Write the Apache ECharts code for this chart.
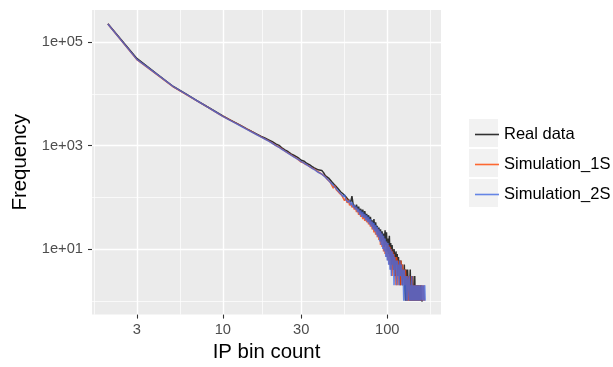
<!DOCTYPE html>
<html>
<head>
<meta charset="utf-8">
<script src="https://cdn.jsdelivr.net/npm/echarts@6/dist/echarts.min.js"></script>
<style>
  html, body { margin: 0; padding: 0; background: #ffffff; }
  #chart { width: 613px; height: 367px; }
</style>
</head>
<body>
<div id="chart"></div>
<script>
// IP bin count (x) for every row of the frequency table
const binCounts = [
  2, 3, 4, 5, 6, 7, 8, 9, 10, 11, 12, 13, 14, 15, 16, 17, 18, 19, 20, 21,
  22, 23, 24, 25, 26, 27, 28, 29, 30, 31, 32, 33, 34, 35, 36, 37, 38, 39, 40, 41,
  42, 43, 44, 45, 46, 47, 48, 49, 50, 51, 52, 53, 54, 55, 56, 57, 58, 59, 60, 61,
  62, 63, 64, 65, 66, 67, 68, 69, 70, 71, 72, 73, 74, 75, 76, 77, 78, 79, 80, 81,
  82, 83, 84, 85, 86, 87, 88, 89, 90, 91, 92, 93, 94, 95, 96, 97, 98, 99, 100, 101,
  102, 103, 104, 105, 106, 107, 108, 109, 110, 111, 112, 113, 114, 115, 116, 117, 118, 119, 120, 121,
  122, 123, 124, 125, 126, 127, 128, 129, 130, 131, 132, 133, 134, 135, 136, 137, 138, 139, 140, 141,
  142, 143, 144, 145, 146, 147, 148, 149, 150, 151, 152, 153, 154, 155, 156, 157, 158, 159, 160, 161,
  162, 163, 164, 165, 166, 167, 168, 169, 170
];

// Frequencies (null = bin count not observed)
const realData = [
  226000, 48500, 23800, 13900, 9850, 7350, 5700, 4580, 3760, 3190, 2760, 2400, 2110, 1880, 1690, 1520, 1400, 1290, 1190, 1080,
  1010, 890, 820, 760, 690, 650, 610, 570, 520, 505, 470, 440, 420, 390, 372, 350, 340, 318, 330, 300,
  262, 250, 236, 218, 200, 196, 172, 170, 150, 152, 128, 134, 116, 120, 102, 108, 90, 96, 82, 105,
  74, 80, 62, 72, 58, 66, 50, 60, 48, 58, 42, 54, 40, 48, 36, 45, 34, 42, 30, 36,
  26, 38, 24, 33, 22, 28, 18, 26, 16, 24, 14, 22, 15, 20, 11, 23, 12, 21, 9, 16,
  8, 18, 7, 13, 5, 12, 8, 4, 10, 7, 3, 9, 5, 8, 3, 7, 4, 6, 2, 6,
  3, 5, 2, 4, 3, 5, 2, 1, 4, 3, 1, 4, 2, 3, 1, 2, 4, 1, 3, 2,
  1, 3, 1, 2, 1, 3, 1, 2, 1, 2, 1, 1, 2, 1, 2, null, 1, 1, 2, 1,
  null, 1, null, 1, null, null, null, null, null
];

const simulation1S = [
  224000, 46000, 23300, 13700, 9700, 7250, 5650, 4500, 3690, 3150, 2720, 2380, 2090, 1850, 1650, 1490, 1350, 1230, 1120, 1010,
  930, 850, 770, 715, 660, 610, 570, 525, 480, 465, 430, 415, 385, 365, 350, 325, 312, 295, 282, 262,
  252, 226, 214, 196, 180, 150, 170, 140, 146, 122, 128, 108, 112, 86, 98, 78, 90, 70, 78, 64,
  72, 58, 66, 52, 60, 46, 55, 42, 50, 38, 47, 35, 44, 33, 40, 30, 37, 27, 34, 24,
  31, 21, 28, 19, 26, 17, 24, 15, 22, 12, 20, 11, 18, 9, 16, 8, 14, 7, 13, 6,
  12, 5, 11, 4, 10, 3, 9, 4, 8, 3, 7, 2, 7, 5, 2, 6, 3, 5, 2, 6,
  4, 2, 5, 3, 4, 2, 3, 4, 2, 3, 1, 2, 3, 1, 2, 3, 1, 2, 2, 1,
  3, 1, 2, 1, 2, 1, 1, 2, 1, 2, 1, null, 2, 1, 1, 2, 1, null, 1, 2,
  1, null, 2, 1, 2, null, 1, null, null
];

const simulation2S = [
  225000, 46500, 23500, 13800, 9760, 7280, 5660, 4510, 3680, 3120, 2690, 2340, 2060, 1830, 1640, 1470, 1340, 1220, 1110, 1000,
  920, 840, 775, 710, 655, 605, 565, 528, 490, 462, 436, 408, 388, 362, 345, 328, 305, 298, 280, 265,
  246, 230, 212, 210, 182, 186, 158, 162, 136, 144, 118, 126, 102, 112, 90, 98, 80, 88, 70, 80,
  64, 72, 58, 66, 52, 60, 46, 56, 42, 52, 40, 48, 36, 45, 33, 42, 30, 38, 27, 34,
  24, 32, 22, 29, 19, 27, 17, 24, 14, 22, 12, 20, 10, 18, 9, 16, 7, 14, 6, 13,
  5, 11, 4, 10, 3, 9, 5, 8, 2, 7, 4, 6, 2, 6, 3, 5, 2, 6, 4, 3,
  5, 2, 4, 3, 1, 4, 2, 3, 1, 2, 3, 1, 2, 2, 3, 1, 2, 1, 2, 3,
  1, 2, 1, 2, 1, 2, 1, 1, 2, 1, 2, 1, null, 2, 1, 1, 2, 1, null, 1,
  2, 1, 1, 2, 1, null, 1, 2, 1
];

const seriesNames = ['Real data', 'Simulation_1S', 'Simulation_2S'];
const seriesColors = ['rgba(0,0,0,0.8)', 'rgba(255,69,0,0.8)', 'rgba(65,105,225,0.8)'];

// Axis breaks (log10 scale) and their labels
const xBreaks = [3, 10, 30, 100];
const xBreakLabels = ['3', '10', '30', '100'];
const yBreaks = [10, 1000, 100000];
const yBreakLabels = ['1e+01', '1e+03', '1e+05'];

const log10 = Math.log10;

function toPoints(values) {
  const pts = [];
  values.forEach((v, i) => {
    if (v !== null && v > 0) pts.push([log10(binCounts[i]), log10(v)]);
  });
  return pts;
}
const allSeries = [realData, simulation1S, simulation2S].map(toPoints);

// Data range with 5% padding on each side
function paddedRange(vals) {
  const lo = Math.min(...vals), hi = Math.max(...vals);
  const pad = (hi - lo) * 0.05;
  return [lo - pad, hi + pad];
}
const xs = [], ys = [];
allSeries.forEach(s => s.forEach(p => { xs.push(p[0]); ys.push(p[1]); }));
const [xMin, xMax] = paddedRange(xs);
const [yMin, yMax] = paddedRange(ys);

// Minor breaks: midpoints between (extended) major breaks
function minorBreaks(major, lo, hi) {
  const b = major.slice();
  const d = b[1] - b[0];
  if (lo < b[0]) b.unshift(b[0] - d);
  if (hi > b[b.length - 1]) b.push(b[b.length - 1] + d);
  const out = [];
  for (let i = 0; i < b.length - 1; i++) {
    const m = (b[i] + b[i + 1]) / 2;
    if (m >= lo && m <= hi) out.push(m);
  }
  return out;
}
const xMajor = xBreaks.map(log10);
const yMajor = yBreaks.map(log10);
const xMinor = minorBreaks(xMajor, xMin, xMax);
const yMinor = minorBreaks(yMajor, yMin, yMax);

function labelFor(value, majors, labels) {
  for (let i = 0; i < majors.length; i++) {
    if (Math.abs(majors[i] - value) < 1e-6) return labels[i];
  }
  return '';
}

const FONT = "'Liberation Sans', Arial, Helvetica, sans-serif";
const chart = echarts.init(document.getElementById('chart'), null, { renderer: 'canvas' });

const hiddenAxisParts = {
  axisLine: { show: false, onZero: false },
  axisLabel: { show: false },
  axisTick: { show: false }
};

chart.setOption({
  animation: false,
  backgroundColor: '#ffffff',
  grid: {
    left: 92, right: 172, top: 10, bottom: 50,
    show: true, backgroundColor: '#EBEBEB', borderWidth: 0
  },
  graphic: [0, 1, 2].map(i => ({
    type: 'rect',
    left: 469, top: 119 + i * 30,
    shape: { width: 29, height: 28 },
    style: { fill: '#F2F2F2' },
    z: 0
  })),
  legend: {
    orient: 'vertical',
    left: 470, top: 114.5,
    itemWidth: 24, itemHeight: 1.6,
    itemGap: 0,
    icon: 'rect',
    data: seriesNames,
    textStyle: { fontFamily: FONT, fontSize: 16.5, color: '#000000', lineHeight: 30 },
    z: 5
  },
  xAxis: [
    {
      type: 'value', min: xMin, max: xMax,
      name: 'IP bin count', nameLocation: 'middle', nameGap: 27,
      nameTextStyle: { fontFamily: FONT, fontSize: 20.4, color: '#000000' },
      axisLine: { show: false, onZero: false },
      axisTick: { show: true, length: 4, customValues: xMajor, lineStyle: { color: '#333333', width: 1.1 } },
      axisLabel: {
        customValues: xMajor, margin: 7.5,
        fontFamily: FONT, fontSize: 14.7, color: '#4D4D4D',
        formatter: v => labelFor(v, xMajor, xBreakLabels)
      },
      splitLine: { show: true, lineStyle: { color: '#ffffff', width: 1.4 } },
      z: 3
    },
    Object.assign({
      type: 'value', min: xMin, max: xMax, position: 'bottom',
      splitLine: { show: true, lineStyle: { color: '#ffffff', width: 0.7 } }
    }, hiddenAxisParts, { axisTick: { show: false, customValues: xMinor } })
  ],
  yAxis: [
    {
      type: 'value', min: yMin, max: yMax,
      name: 'Frequency', nameLocation: 'middle', nameGap: 56, nameRotate: 90,
      nameTextStyle: { fontFamily: FONT, fontSize: 20.4, color: '#000000' },
      axisLine: { show: false, onZero: false },
      axisTick: { show: true, length: 4, customValues: yMajor, lineStyle: { color: '#333333', width: 1.1 } },
      axisLabel: {
        customValues: yMajor, margin: 9,
        fontFamily: FONT, fontSize: 14.7, color: '#4D4D4D',
        formatter: v => labelFor(v, yMajor, yBreakLabels)
      },
      splitLine: { show: true, lineStyle: { color: '#ffffff', width: 1.4 } },
      z: 3
    },
    Object.assign({
      type: 'value', min: yMin, max: yMax, position: 'left',
      splitLine: { show: true, lineStyle: { color: '#ffffff', width: 0.7 } }
    }, hiddenAxisParts, { axisTick: { show: false, customValues: yMinor } })
  ],
  series: allSeries.map((pts, i) => ({
    name: seriesNames[i],
    type: 'line',
    data: pts,
    showSymbol: false,
    symbol: 'none',
    connectNulls: true,
    clip: true,
    itemStyle: { color: seriesColors[i] },
    lineStyle: { color: seriesColors[i], width: 1.5 },
    z: 10 + i
  }))
});
</script>
</body>
</html>
